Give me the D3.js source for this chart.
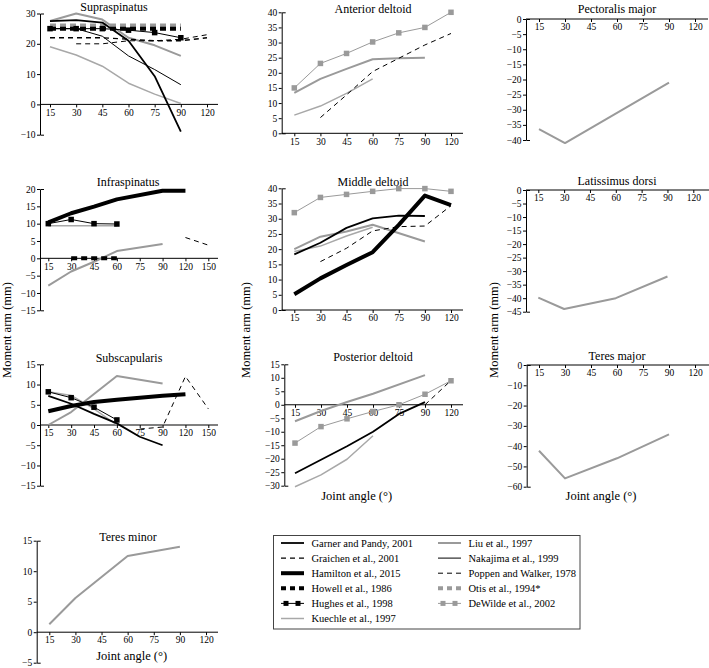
<!DOCTYPE html>
<html><head><meta charset="utf-8">
<script src="https://cdn.jsdelivr.net/npm/d3@7"></script>
<style>body{margin:0;background:#fff} svg{display:block}</style>
</head><body><svg id="c" width="709" height="668" font-family="'Liberation Serif', 'Times New Roman', Times, 'DejaVu Serif', serif"></svg>
<script>
// ---------- DATA ----------
const anglesA = [15,30,45,60,75,90,120];
const anglesB = [15,30,45,60,75,90,120,150];

// Supraspinatus (anglesA)
const supraLiu      = [27.5, 30, 28, 22, 19.5, 16, null];
const supraGarner   = [27.5, 27.8, 27, 21, 9.3, -9, null];
const supraOtis     = [26, 26, 26, 26, 26, 26, null];
const supraHowell   = [25, 25, 25, 25, 25, 25, null];
const supraHughes   = [25, 25, 25, 24.5, 23.7, 22, null];
const supraGraichen = [22, 22, 22, 21.5, 21, 21, 22];
const supraPoppen   = [null, 20, 20, 21, 21, 21.5, 23];
const supraNakajima = [25, 25, 22.5, 16, 11.5, 6.5, null];
const supraKuechle  = [19, 16.3, 12.6, 7, 3.4, 0.3, null];

// Anterior deltoid (anglesA)
const antDeWilde = [15, 23.1, 26.4, 30.2, 33.2, 35, 40];
const antLiu     = [13.4, 18, 21.3, 24.5, 24.8, 25, null];
const antKuechle = [6, 9, 13.2, 18, null, null, null];
const antPoppen  = [null, 5.2, 12.7, 20.4, 24.8, 29.2, 33];

// Pectoralis major, Latissimus dorsi, Teres major, Teres minor (anglesA)
const pectLiu = [-36.4, -41, null, null, null, -21, null];
const latLiu  = [-39.8, -44, null, -40, null, -32, null];
const tmajLiu = [-42.3, -55.9, null, -46, null, -34.2, null];
const tminLiu = [1.3, 5.6, null, 12.5, null, 14, null];

// Infraspinatus (anglesB)
const infHamilton = [10.4, 13, 14.9, 17, null, 19.5, 19.5, null];
const infHughes   = [10, 11.2, 10, 9.9, null, null, null, null];
const infKuechle  = [9.4, 9.4, 9.4, 9.4, null, null, null, null];
const infLiu      = [-7.9, -3.8, -1, 2.1, null, 4.1, null, null];
const infPoppen   = [null, null, null, null, null, null, 6, 3.8];
const infHowell   = [null, 0, 0, 0, null, null, null, null];

// Middle deltoid (anglesA)
const midDeWilde  = [32, 37, 38, 39, 39.9, 39.9, 39];
const midHamilton = [5.2, 10.4, 14.8, 19, 28, 37.6, 34.5];
const midGarner   = [18.3, 22.1, 27, 30.1, 31, 30.9, null];
const midLiu      = [20, 24.1, 25.8, 28, null, 22.5, null];
const midKuechle  = [19.2, 21, 24.3, 27.2, null, null, null];
const midPoppen   = [null, 15.9, 20.3, 26, 27.4, 27.6, 34.3];

// Subscapularis (anglesB)
const subHamilton = [3.4, 4.7, 5.7, 6.25, null, 7.2, 7.6, null];
const subLiu      = [0, 3.2, null, 12.1, null, 10.25, null, null];
const subHughes   = [8.2, 6.75, 4.4, 1.25, null, null, null, null];
const subKuechle  = [8.2, 7.3, 4, 0, null, null, null, null];
const subGarner   = [7.2, 5.25, 2.75, 0.4, -2.9, -5, null, null];
const subPoppen   = [null, null, null, null, -1, -0.5, 12, 4];

// Posterior deltoid (anglesA)
const postLiu     = [-6.1, -2.3, 1, 4.1, null, 11, null];
const postDeWilde = [-14.2, -8.1, -5.2, -2.5, 0, 3.9, 8.9];
const postGarner  = [-25.4, -20.4, -15.4, -10, -3.4, 1, null];
const postKuechle = [-30.4, -26, -20.2, -11.5, null, null, null];
const postPoppen  = [null, null, null, null, null, 0, 9];

// Legend
const legendKeys   = ['Garner','Graichen','Hamilton','Howell','Hughes','Kuechle','Liu','Nakajima','Poppen','Otis','DeWilde'];
const legendLabels = ['Garner and Pandy, 2001','Graichen et al., 2001','Hamilton et al., 2015','Howell et al., 1986','Hughes et al., 1998','Kuechle et al., 1997','Liu et al., 1997','Nakajima et al., 1999','Poppen and Walker, 1978','Otis et al., 1994*','DeWilde et al., 2002'];

// ---------- STYLES ----------
const FONT = "'Liberation Serif', 'Times New Roman', Times, 'DejaVu Serif', serif";
const styles = {
  Garner:  {stroke:'#000', w:1.8},
  Graichen:{stroke:'#000', w:1.4, dash:'5,4'},
  Hamilton:{stroke:'#000', w:4},
  Howell:  {stroke:'#000', w:4, dash:'6,4'},
  Hughes:  {stroke:'#000', w:1, marker:'#000'},
  Kuechle: {stroke:'#a8a8a8', w:1.5},
  Liu:     {stroke:'#9a9a9a', w:2},
  Nakajima:{stroke:'#000', w:1},
  Poppen:  {stroke:'#000', w:1, dash:'5,4'},
  Otis:    {stroke:'#9a9a9a', w:4, dash:'6,4'},
  DeWilde: {stroke:'#9a9a9a', w:1, marker:'#9a9a9a'}
};

// ---------- LAYOUT ----------
const panels = [
  {title:'Supraspinatus', angles:anglesA, ax:40, x0:50, x1:207, xEnd:218, dom:[-10,30], py:[134.7,13.5], step:10, tx:114, ty:11,
   series:[['Kuechle',supraKuechle],['Liu',supraLiu],['Otis',supraOtis],['Howell',supraHowell],['Graichen',supraGraichen],['Poppen',supraPoppen],['Nakajima',supraNakajima],['Hughes',supraHughes],['Garner',supraGarner]]},
  {title:'Anterior deltoid', angles:anglesA, ax:281.7, x0:294.3, x1:451, xEnd:463, dom:[0,40], py:[133.3,12.3], step:5, tx:373, ty:12.5,
   series:[['Kuechle',antKuechle],['Liu',antLiu],['Poppen',antPoppen],['DeWilde',antDeWilde]]},
  {title:'Pectoralis major', angles:anglesA, ax:526, x0:539, x1:695, xEnd:708, dom:[-40,0], py:[140,19], step:5, tx:617, ty:12.5,
   series:[['Liu',pectLiu]]},
  {title:'Infraspinatus', angles:anglesB, ax:40, x0:48.3, x1:208.3, xEnd:218, dom:[-15,20], py:[310.3,189], step:5, tx:128, ty:186,
   series:[['Liu',infLiu],['Kuechle',infKuechle],['Howell',infHowell],['Poppen',infPoppen],['Hamilton',infHamilton],['Hughes',infHughes]]},
  {title:'Middle deltoid', angles:anglesA, ax:281.7, x0:294.3, x1:451, xEnd:463, dom:[0,40], py:[310,188.3], step:5, tx:373, ty:186,
   series:[['Kuechle',midKuechle],['Liu',midLiu],['Poppen',midPoppen],['Garner',midGarner],['Hamilton',midHamilton],['DeWilde',midDeWilde]]},
  {title:'Latissimus dorsi', angles:anglesA, ax:526, x0:538.3, x1:693.3, xEnd:709, dom:[-45,0], py:[311.7,190], step:5, tx:617, ty:185,
   series:[['Liu',latLiu]]},
  {title:'Subscapularis', angles:anglesB, ax:40, x0:48.3, x1:208.3, xEnd:218, dom:[-15,15], py:[485.7,364.3], step:5, tx:129, ty:362,
   series:[['Liu',subLiu],['Kuechle',subKuechle],['Poppen',subPoppen],['Garner',subGarner],['Hamilton',subHamilton],['Hughes',subHughes]]},
  {title:'Posterior deltoid', angles:anglesA, ax:284.3, x0:295, x1:451, xEnd:463, dom:[-30,15], py:[485.7,364.3], step:5, tx:373, ty:361, xlabel:[356.7,500],
   series:[['Kuechle',postKuechle],['Liu',postLiu],['Poppen',postPoppen],['Garner',postGarner],['DeWilde',postDeWilde]]},
  {title:'Teres major', angles:anglesA, ax:526.7, x0:539, x1:695, xEnd:709, dom:[-60,0], py:[486.7,365], step:10, tx:617, ty:360, xlabel:[601,500],
   series:[['Liu',tmajLiu]]},
  {title:'Teres minor', angles:anglesA, ax:36.7, x0:49.3, x1:206, xEnd:218, dom:[-5,15], py:[662.7,540.7], step:5, tx:128, ty:541, xlabel:[131.7,660],
   series:[['Liu',tminLiu]]}
];

const svg = d3.select('#c');

function drawMarkers(g, pts, color, size){
  g.selectAll(null).data(pts).enter().append('rect')
    .attr('x', d=>d[0]-size/2).attr('y', d=>d[1]-size/2)
    .attr('width', size).attr('height', size).attr('fill', color);
}

panels.forEach(p=>{
  const g = svg.append('g');
  const x = d3.scalePoint().domain(p.angles).range([p.x0, p.x1]);
  const y = d3.scaleLinear().domain(p.dom).range(p.py);
  const ticks = d3.range(p.dom[0], p.dom[1] + 0.001, p.step);

  const ya = g.append('g').attr('transform', `translate(${p.ax},0)`)
    .call(d3.axisLeft(y).tickValues(ticks).tickSizeInner(3).tickSizeOuter(-4).tickPadding(1.5));
  ya.attr('font-family', FONT).attr('font-size', 9.5);

  g.append('line').attr('x1', p.ax).attr('x2', p.xEnd).attr('y1', y(0)).attr('y2', y(0))
    .attr('stroke', '#000').attr('stroke-width', 1);
  const xa = g.append('g').attr('transform', `translate(0,${y(0)})`)
    .call(d3.axisBottom(x).tickSizeInner(3).tickSizeOuter(0).tickPadding(1.5));
  xa.select('.domain').remove();
  xa.attr('font-family', FONT).attr('font-size', 9.5);

  p.series.forEach(([key, vals])=>{
    const st = styles[key];
    const pts = p.angles.map((a,i)=>[a, vals[i]]).filter(d=>d[1]!=null).map(d=>[x(d[0]), y(d[1])]);
    g.append('path').attr('d', d3.line()(pts)).attr('fill','none')
      .attr('stroke', st.stroke).attr('stroke-width', st.w)
      .attr('stroke-dasharray', st.dash || null).attr('stroke-linejoin','round');
    if (st.marker) drawMarkers(g, pts, st.marker, 5.5);
  });

  g.append('text').attr('x', p.tx).attr('y', p.ty).attr('text-anchor','middle')
    .attr('font-family', FONT).attr('font-size', 12).text(p.title);
  if (p.xlabel) g.append('text').attr('x', p.xlabel[0]).attr('y', p.xlabel[1]).attr('text-anchor','middle')
    .attr('font-family', FONT).attr('font-size', 12.5).text('Joint angle (°)');
});

// y-axis titles
[[11,330],[250,330],[498,330]].forEach(([tx,ty])=>{
  svg.append('text').attr('transform', `translate(${tx},${ty}) rotate(-90)`).attr('text-anchor','middle')
    .attr('font-family', FONT).attr('font-size', 12.5).text('Moment arm (mm)');
});

// legend
const lg = svg.append('g');
lg.append('rect').attr('x', 273.5).attr('y', 535.5).attr('width', 306.5).attr('height', 93.5)
  .attr('fill','#fff').attr('stroke','#444').attr('stroke-width', 1);
legendKeys.forEach((k,i)=>{
  const col = i < 6 ? 0 : 1;
  const row = i < 6 ? i : i - 6;
  const lx = col === 0 ? 281 : 438;
  const cy = 543 + row * 15.1;
  const st = styles[k];
  lg.append('line').attr('x1', lx).attr('x2', lx + 23).attr('y1', cy).attr('y2', cy)
    .attr('stroke', st.stroke).attr('stroke-width', st.w).attr('stroke-dasharray', st.dash ? '5,4' : null);
  if (st.marker) drawMarkers(lg, [[lx+5, cy],[lx+17, cy]], st.marker, 5);
  lg.append('text').attr('x', lx + 30.5).attr('y', cy + 3.5).attr('font-family', FONT)
    .attr('font-size', 10.5).text(legendLabels[i]);
});
</script></body></html>
